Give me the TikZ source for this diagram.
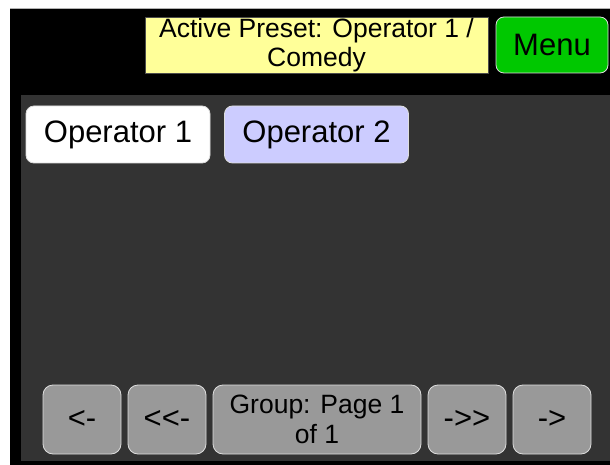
\documentclass[tikz,border=0pt]{standalone}
\usepackage{fontspec}
\setmainfont{Liberation Sans}
\usetikzlibrary{positioning}
\usetikzlibrary{calc}
\definecolor{panelgray}{HTML}{333333}
\definecolor{btngray}{HTML}{999999}
\definecolor{lavender}{HTML}{CCCCFF}
\definecolor{presetyellow}{HTML}{FFFF99}
\definecolor{menugreen}{HTML}{00C800}
\definecolor{rimgray}{HTML}{DDDDDD}
\tikzstyle{bigfont}=[font=\fontsize{31}{34}\selectfont]
\tikzstyle{twoline}=[font=\fontsize{26.5}{29.5}\selectfont, align=center]
\tikzstyle{tab}=[rectangle, rounded corners=8pt, draw=rimgray, line width=0.8pt, minimum height=57pt, inner sep=0pt, bigfont]
\tikzstyle{navbtn}=[rectangle, rounded corners=10pt, draw=rimgray, fill=btngray, line width=0.8pt, minimum height=69pt, inner sep=0pt]

\begin{document}
\begin{tikzpicture}[x=1pt, y=-1pt]

  \useasboundingbox[fill=white] (0,0) rectangle (610,465);

  % frame and panel
  \fill[black] (10,8) rectangle (610,465);
  \draw[black!30, line width=0.8pt] (10,8) -- (610,8);
  \fill[panelgray] (21,95) rectangle (610,461);

  % header
  \node[rectangle, draw=black!70, fill=presetyellow, line width=0.6pt, minimum width=343pt, minimum height=56pt, inner sep=0pt, twoline] (preset) at (316.5,45) {Active Preset: Operator 1 /\\Comedy};
  \node[rectangle, rounded corners=8pt, draw=rimgray, fill=menugreen, line width=0.8pt, minimum width=112pt, minimum height=56pt, inner sep=0pt, bigfont] (menu) at (552,45) {Menu};

  % operator tabs
  \foreach \x/\name/\fillc/\label in {118/op1/white/Operator 1, 316.5/op2/lavender/Operator 2}
          \node[tab, fill=\fillc, minimum width=184pt] (\name) at (\x, 134.5) {\label};

  % navigation row
  \foreach \x/\w/\name/\label in {82/78/back/{<-}, 167/78/fastback/{<{}<-}, 552/78/fwd/{->}, 467/78/fastfwd/{->{}>}}
          \node[navbtn, bigfont, minimum width=\w pt] (\name) at (\x, 419.5) {\label};

  \node[navbtn, twoline, minimum width=208pt] (group) at (317,419.5) {Group: Page 1\\of 1};

\end{tikzpicture}
\end{document}
